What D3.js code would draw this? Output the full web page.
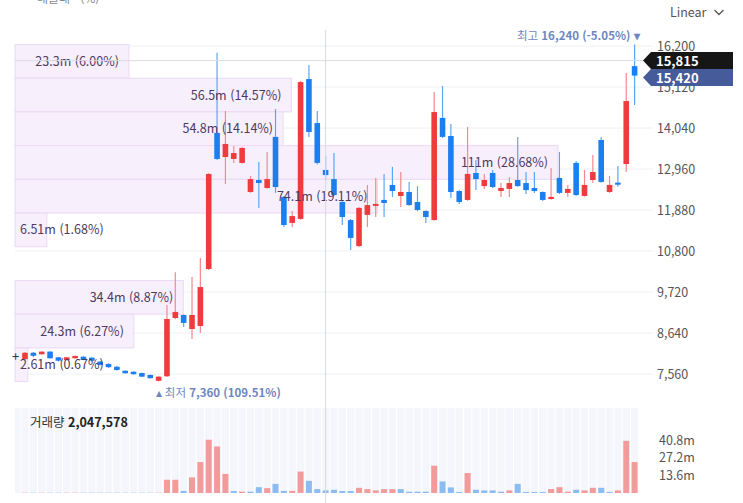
<!DOCTYPE html>
<html lang="ko">
<head>
<meta charset="UTF-8">
<title>Candle chart</title>
<script src="https://d3js.org/d3.v7.min.js"></script>
<style>
    body { margin: 0; background: #fff; }
    svg { display: block; font-family: "Noto Sans CJK KR", "Noto Sans", sans-serif; }
</style>
</head>
<body>
<div id="chart"></div>
<script>
// candles, oldest -> newest
var opens  = [7950,8120,8080,8150,8000,7930,7975,8015,7990,7885,7825,7750,7645,7620,7585,7535,7380,7500,9035,9115,
              8745,8825,10325,13910,13275,13225,13120,12355,12670,12460,13805,12225,11540,11645,15330,14170,12935,12695,12090,11615,
              10930,11750,11990,12145,12540,12250,12355,12090,11855,11615,14305,13830,12380,12145,12855,12510,12855,12380,12435,12670,
              12590,12460,12355,12170,12725,12330,13120,12250,12670,13725,12355,12600,13090,15670];
var highs  = [8140,8140,8160,8160,8010,8010,8050,8030,8000,7900,7840,7770,7660,7630,7600,7550,7500,9380,10240,9130,
              10115,10615,12850,16020,14490,13565,13540,12775,13145,13410,14540,12250,11855,15280,15700,14490,13305,13380,12120,11640,
              11960,12540,12725,12830,13015,12880,12620,12510,11870,14990,15145,14145,12400,14065,13195,12830,12935,12590,12750,13805,
              12880,12880,12370,12985,13410,12540,13170,12935,13330,13805,12775,13040,15490,16240];
var lows   = [7930,8000,8070,7960,7890,7920,7960,7920,7890,7790,7720,7650,7570,7540,7480,7440,7360,7480,9000,8800,
              8480,8640,10300,13200,12565,13120,13100,12330,11935,12440,12330,11430,11430,11620,13800,13080,12670,12250,11485,10825,
              10900,11430,11695,11695,12225,11960,11990,11850,11540,11600,13780,12195,12040,12120,12405,12430,12460,12225,12225,12490,
              12300,12330,12120,12150,12300,12225,12250,12230,12590,12600,12330,12490,12880,14645];
var closes = [8120,8040,8150,7975,7910,8000,8035,7930,7910,7800,7740,7665,7580,7555,7490,7450,7490,9010,9195,8905,
              9115,9850,12830,13225,13620,13380,13515,12695,12590,12695,12485,11485,11720,15250,13935,13120,12800,12275,11695,11145,
              11935,12010,12040,12065,12380,12355,12010,11880,11695,14460,13805,12355,12090,12830,12695,12670,12485,12460,12590,12510,
              12405,12380,12145,12225,12330,12435,12275,12540,12880,12620,12540,12560,14750,15420];
// volume in millions
var volumes = [0.2,0.2,0.2,0.2,0.2,0.2,0.2,0.2,0.2,0.2,0.2,0.2,0.2,0.2,0.2,0.2,0.2,10.2,10.2,1.6,
               12,23.8,41,35.8,14.7,1.5,1,1,4.5,3.7,7,1.6,1.6,16.5,9.4,3,2.05,2.5,1.5,1.5,
               4,3,2,3,3,3,1,1,1,21,8.9,4.3,0.8,15.4,2.5,2,2,1,2,7,
               0.8,0.8,0.8,3,4.5,1,2.5,2,4,4,0.8,2,40.2,23.8];

// volume profile bands, top (high price) to bottom
var profileVol = [23.3, 56.5, 54.8, 111, 74.1, 6.51, 0, 34.4, 24.3, 2.61];
var profilePct = [6.00, 14.57, 14.14, 28.68, 19.11, 1.68, 0, 8.87, 6.27, 0.67];

var priceTicks  = [7560, 8640, 9720, 10800, 11880, 12960, 14040, 15120, 16200];
var volumeTicks = [13.6, 27.2, 40.8];

var cursorIndex = 36;
var cursorPrice = 15815;
var cursorVolume = 2047578;

var W = 743, H = 503;
var UP = "#ef3b3e", DOWN = "#1c7ff0";
var UP_WICK = "#f28a8c", DOWN_WICK = "#5aa6f6";
var UP_VOL = "#f39a9a", DOWN_VOL = "#8dbcf2";

var candles = opens.map(function(o, i) {
    return { i: i, o: o, h: highs[i], l: lows[i], c: closes[i], v: volumes[i],
             volUp: i === 0 ? true : closes[i] >= closes[i - 1] };
});

var x = d3.scaleLinear().domain([0, candles.length - 1]).range([25, 634.6]);
var step = x(1) - x(0);
var y = d3.scaleLinear().domain([7560, 16200]).range([374, 46]);
var yv = d3.scaleLinear().domain([0, 40.8]).range([493, 440]);

var left = 15, right = 640;
var fmt = d3.format(",");

var svg = d3.select("#chart").append("svg")
    .attr("width", W).attr("height", H);

// legend stub at the very top (cut off in the screenshot)
svg.append("text").attr("x", 37).attr("y", 3)
    .style("font-size", "12px").attr("fill", "#888").text("매물대 · (%)");

var lin = svg.append("text").attr("x", 670).attr("y", 17)
    .style("font-size", "12.5px").attr("fill", "#555").text("Linear");
var lw = lin.node().getComputedTextLength();
svg.append("path").attr("d", "M" + (670 + lw + 8) + ",10 l4.5,4.5 l4.5,-4.5")
    .attr("fill", "none").attr("stroke", "#555").attr("stroke-width", 1.3);

// grid
svg.append("g").selectAll("line").data(priceTicks).enter().append("line")
    .attr("x1", left).attr("x2", 653)
    .attr("y1", d => y(d)).attr("y2", d => y(d))
    .attr("stroke", "#eef0f4");

// volume profile boxes
var hi = d3.max(highs), lo = d3.min(lows);
var band = (hi - lo) / profileVol.length;
var pw = d3.scaleLinear().domain([0, d3.max(profileVol)]).range([0, 543]);
var profile = profileVol.map(function(v, k) {
    return { v: v, pct: profilePct[k], top: y(hi - k * band), bot: y(hi - (k + 1) * band) };
}).filter(d => d.v > 0);

svg.append("g").selectAll("rect").data(profile).enter().append("rect")
    .attr("x", left).attr("y", d => d.top)
    .attr("width", d => pw(d.v)).attr("height", d => d.bot - d.top)
    .attr("fill", "#f8effc").attr("stroke", "#ead9f3");

// candles
var cg = svg.append("g");
cg.selectAll("line").data(candles).enter().append("line")
    .attr("x1", d => x(d.i)).attr("x2", d => x(d.i))
    .attr("y1", d => y(d.h)).attr("y2", d => y(d.l))
    .attr("stroke", d => d.c >= d.o ? UP_WICK : DOWN_WICK)
    .attr("stroke-width", 1.2);
cg.selectAll("rect").data(candles).enter().append("rect")
    .attr("x", d => x(d.i) - 2.8)
    .attr("y", d => y(Math.max(d.o, d.c)))
    .attr("width", 5.6)
    .attr("height", d => Math.max(2, Math.abs(y(d.o) - y(d.c))))
    .attr("fill", d => d.c >= d.o ? UP : DOWN);

// profile labels, right aligned inside the box
svg.append("g").selectAll("text").data(profile).enter().append("text")
    .attr("y", d => (d.top + d.bot) / 2 + 4.5)
    .style("font-size", "12.5px").attr("fill", "#4c3a5e")
    .text(d => (d.v >= 100 ? Math.round(d.v) : d.v) + "m (" + d.pct.toFixed(2) + "%)")
    .attr("x", function(d) {
        var tw = this.getComputedTextLength();
        return Math.max(20, left + pw(d.v) - 10 - tw);
    });

// high / low markers
var hiC = candles.find(d => d.h === hi), loC = candles.find(d => d.l === lo);
var last = candles[candles.length - 1];
var hiT = svg.append("text").attr("x", x(hiC.i) + 5).attr("y", y(hi) - 4)
    .attr("text-anchor", "end").style("font-size", "11.5px").attr("fill", "#6d86c2");
hiT.append("tspan").text("최고 ");
hiT.append("tspan").attr("font-weight", "bold")
    .text(fmt(hi) + " (" + ((last.c - hi) / hi * 100).toFixed(2) + "%) ▾");
var loT = svg.append("text").attr("x", x(loC.i) - 3).attr("y", y(lo) + 15)
    .style("font-size", "11.5px").attr("fill", "#6d86c2");
loT.append("tspan").text("▴ 최저 ");
loT.append("tspan").attr("font-weight", "bold")
    .text(fmt(lo) + " (" + ((last.c - lo) / lo * 100).toFixed(2) + "%)");

// volume panel: background stripes then bars
var vg = svg.append("g");
var slots = d3.range(-1, candles.length);
vg.selectAll("rect.bg").data(slots).enter().append("rect")
    .attr("class", "bg")
    .attr("x", d => Math.max(left, x(d) - step / 2 + 0.5))
    .attr("y", 408)
    .attr("width", d => Math.min(x(d) + step / 2 - 0.5, right) - Math.max(left, x(d) - step / 2 + 0.5))
    .attr("height", 85)
    .attr("fill", "#f4f6fb");
vg.selectAll("rect.vol").data(candles).enter().append("rect")
    .attr("class", "vol")
    .attr("x", d => x(d.i) - 3)
    .attr("y", d => yv(d.v))
    .attr("width", 6)
    .attr("height", d => yv(0) - yv(d.v))
    .attr("fill", d => d.volUp ? UP_VOL : DOWN_VOL);

var vt = svg.append("text").attr("x", 30).attr("y", 427).style("font-size", "12.5px").attr("fill", "#333");
vt.append("tspan").text("거래량 ");
vt.append("tspan").attr("font-weight", "bold").attr("fill", "#222").text(fmt(cursorVolume));

// axis labels
svg.append("g").selectAll("text").data(priceTicks).enter().append("text")
    .attr("x", 657).attr("y", d => y(d) + 4.5)
    .style("font-size", "12.5px").attr("fill", "#555")
    .text(d => fmt(d));
svg.append("g").selectAll("text").data(volumeTicks).enter().append("text")
    .attr("x", 659).attr("y", d => yv(d) + 4.5)
    .style("font-size", "12.5px").attr("fill", "#555")
    .text(d => d + "m");

// crosshair
svg.append("line").attr("x1", x(cursorIndex)).attr("x2", x(cursorIndex))
    .attr("y1", 30).attr("y2", H).attr("stroke", "#d6d9e0");
svg.append("line").attr("x1", left).attr("x2", 645)
    .attr("y1", y(cursorPrice)).attr("y2", y(cursorPrice)).attr("stroke", "#d9dce2");
svg.append("text").attr("x", 12).attr("y", 361).style("font-size", "13px").attr("fill", "#333").text("+");

function priceTag(cy, bg, val) {
    var g = svg.append("g");
    g.append("path")
        .attr("d", "M643," + cy + " L651," + (cy - 8.5) + " L733," + (cy - 8.5) +
              " L733," + (cy + 8.5) + " L651," + (cy + 8.5) + " Z")
        .attr("fill", bg);
    g.append("text").attr("x", 656).attr("y", cy + 5)
        .style("font-size", "13px").attr("font-weight", "bold").attr("fill", "#fff")
        .text(fmt(val));
}
var cy1 = y(cursorPrice);
priceTag(cy1, "#161616", cursorPrice);
priceTag(Math.max(y(last.c), cy1 + 17), "#465b99", last.c);
</script>
</body>
</html>
